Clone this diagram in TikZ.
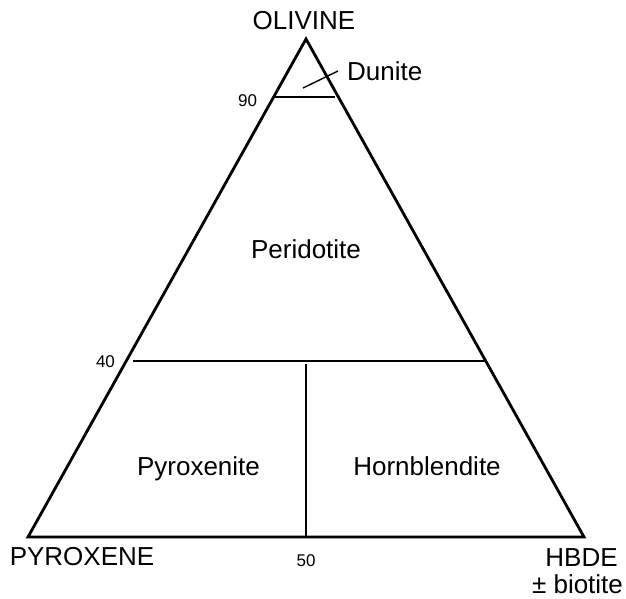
\documentclass[tikz,border=0pt]{standalone}
\usepackage{fontspec}
\setmainfont{Liberation Sans}
\begin{document}
\begin{tikzpicture}[x=1pt,y=-1pt,
  edge/.style={line width=2.8pt,line cap=butt,line join=miter},
  thinedge/.style={line width=1.4pt},
  big/.style={font=\fontsize{26}{29}\selectfont,inner sep=0pt,anchor=base},
  small/.style={font=\fontsize{17}{19}\selectfont,inner sep=0pt,anchor=base}]
\useasboundingbox (0,0) rectangle (626,598);
% corners
\coordinate (A) at (306,39);
\coordinate (L) at (28,537);
\coordinate (R) at (584,537);
\coordinate (n90l) at (275,97);
\coordinate (n90r) at (335,97);
\coordinate (n40l) at (133,361);
\coordinate (n40r) at (485,361);
\coordinate (vtop) at (306,364);
\coordinate (vbot) at (306,537);
\coordinate (dun1) at (303,88);
\coordinate (dun2) at (338,71);
% triangle
\draw[edge] (L) -- (A) -- (R) -- cycle;
\draw[edge] (n90l) -- (n90r);
\draw[edge] (n40l) -- (n40r);
\draw[edge] (vtop) -- (vbot);
\draw[thinedge] (dun1) -- (dun2);
% labels
\node[big] (olivine) at (304,29) {OLIVINE};
\node[big,anchor=base west] (dunite) at (347,80) {Dunite};
\node[small] (l90) at (247.5,106.5) {90};
\node[big] (perid) at (306,258.5) {Peridotite};
\node[small] (l40) at (105.5,367) {40};
\node[big] (pyrox) at (198.5,475) {Pyroxenite};
\node[big] (hbl) at (427,475) {Hornblendite};
\node[small] (l50) at (306,566) {50};
\node[big] (pyx) at (82,565) {PYROXENE};
\node[big] (hbde) at (581.5,566) {HBDE};
\node[big] (biot) at (577.5,593) {± biotite};
\end{tikzpicture}
\end{document}
